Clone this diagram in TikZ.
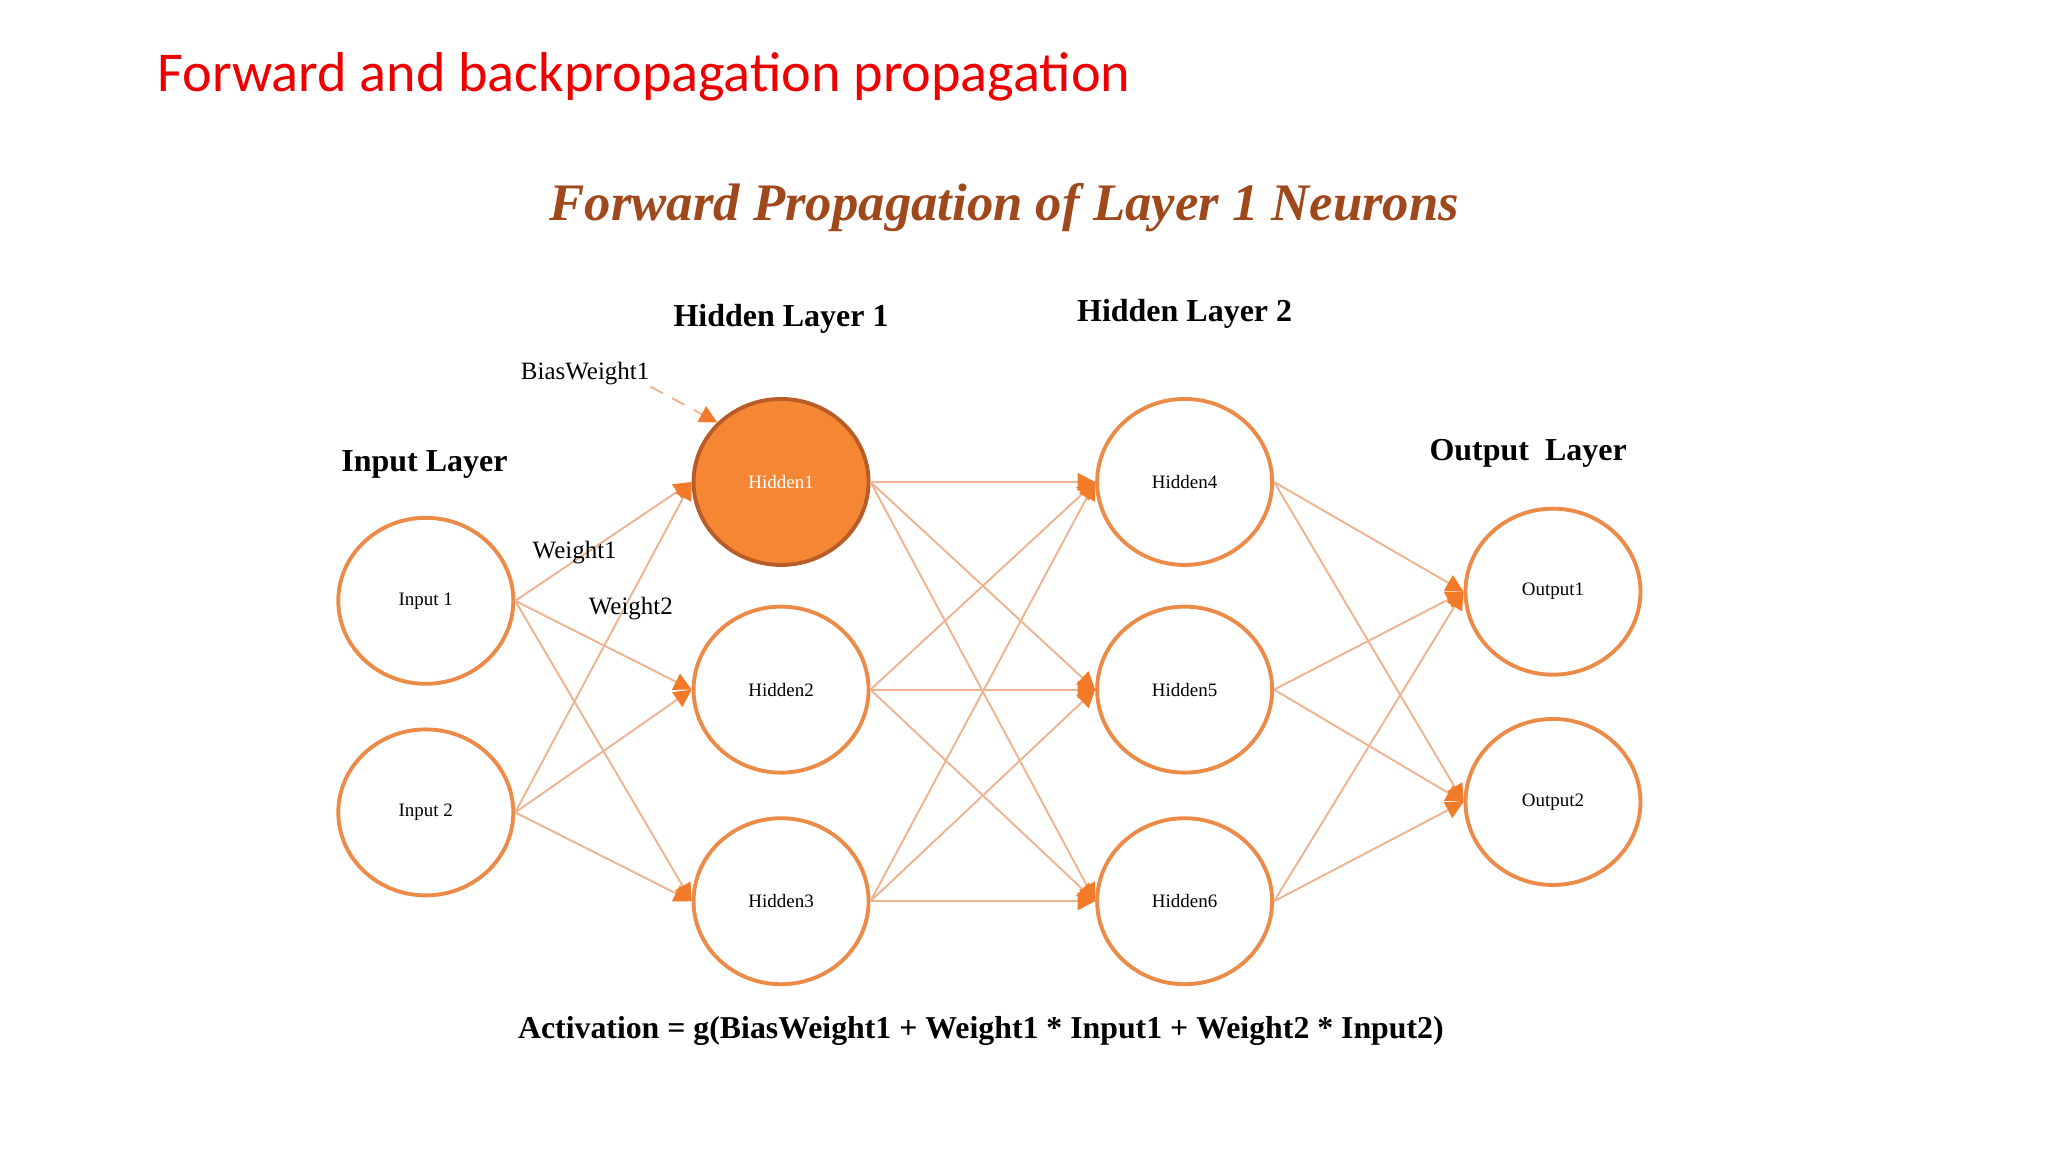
\documentclass[tikz,border=0pt]{standalone}
\usepackage{fontspec}
\setmainfont{Liberation Serif}
\newfontfamily\calib{Carlito}
\usetikzlibrary{arrows.meta,shapes.geometric}
\definecolor{titlered}{RGB}{238,0,0}
\definecolor{brownt}{RGB}{158,72,28}
\definecolor{ringor}{RGB}{236,138,72}
\definecolor{edgetan}{RGB}{236,180,145}
\definecolor{heador}{RGB}{242,122,40}
\definecolor{fillor}{RGB}{245,134,52}
\definecolor{darkor}{RGB}{185,92,40}
\begin{document}
\begin{tikzpicture}[x=0.013061cm,y=-0.013061cm,
  neuron/.style={ellipse, draw=ringor, line width=1.1pt, fill=white,
    minimum width=1.75cm, minimum height=1.66cm, inner sep=0pt,
    font=\fontsize{5.4}{6}\selectfont},
  firing/.style={neuron, fill=fillor, draw=darkor, text=white},
  conn/.style={draw=edgetan, line width=0.55pt,
    -{Triangle[length=5pt,width=5pt,color=heador]}},
  layerlbl/.style={font=\fontsize{9.1}{11}\selectfont\bfseries},
  wlbl/.style={font=\fontsize{7.1}{9}\selectfont}
]
\useasboundingbox (0,0) rectangle (1568,882);

% titles
\node[anchor=west, text=titlered, font=\calib\fontsize{16}{19}\selectfont, inner sep=0pt]
  (title) at (120,59) {Forward and backpropagation propagation};
\node[text=brownt, font=\fontsize{15}{18}\selectfont\bfseries\itshape, inner sep=0pt]
  (subtitle) at (769,159) {Forward Propagation of Layer 1 Neurons};

% layer labels
\node[layerlbl] (lhl1) at (598,244) {Hidden Layer 1};
\node[layerlbl] (lhl2) at (907,240) {Hidden Layer 2};
\node[layerlbl] (lin) at (325,356) {Input Layer};
\node[layerlbl] (lout) at (1170,347) {Output\ \ Layer};

% neurons
\node[neuron] (in1) at (326,460) {Input 1};
\node[neuron] (in2) at (326,622) {Input 2};
\node[firing] (h1) at (598,369) {Hidden1};
\node[neuron] (h2) at (598,528) {Hidden2};
\node[neuron] (h3) at (598,690) {Hidden3};
\node[neuron] (h4) at (907,369) {Hidden4};
\node[neuron] (h5) at (907,528) {Hidden5};
\node[neuron] (h6) at (907,690) {Hidden6};
\node[neuron] (o1) at (1189,453) {Output1};
\node[neuron] (o2) at (1189,614) {Output2};

% connections
\foreach \s in {in1,in2}{
  \foreach \t in {h1,h2,h3}{
    \draw[conn] (\s.east) -- (\t.west);
  }
}
\foreach \s in {h1,h2,h3}{
  \foreach \t in {h4,h5,h6}{
    \draw[conn] (\s.east) -- (\t.west);
  }
}
\foreach \s in {h4,h5,h6}{
  \foreach \t in {o1,o2}{
    \draw[conn] (\s.east) -- (\t.west);
  }
}

% weight labels
\node[wlbl] (bw) at (448,286) {BiasWeight1};
\node[wlbl] (w1) at (440,423) {Weight1};
\node[wlbl] (w2) at (483,466) {Weight2};
\coordinate (bwstart) at (498,296);
\draw[conn, dash pattern=on 4pt off 3pt] (bwstart) -- (h1.137);

% formula
\node[font=\fontsize{9.05}{11}\selectfont\bfseries] (formula) at (751,789)
  {Activation = g(BiasWeight1 + Weight1 * Input1 + Weight2 * Input2)};
\end{tikzpicture}
\end{document}
